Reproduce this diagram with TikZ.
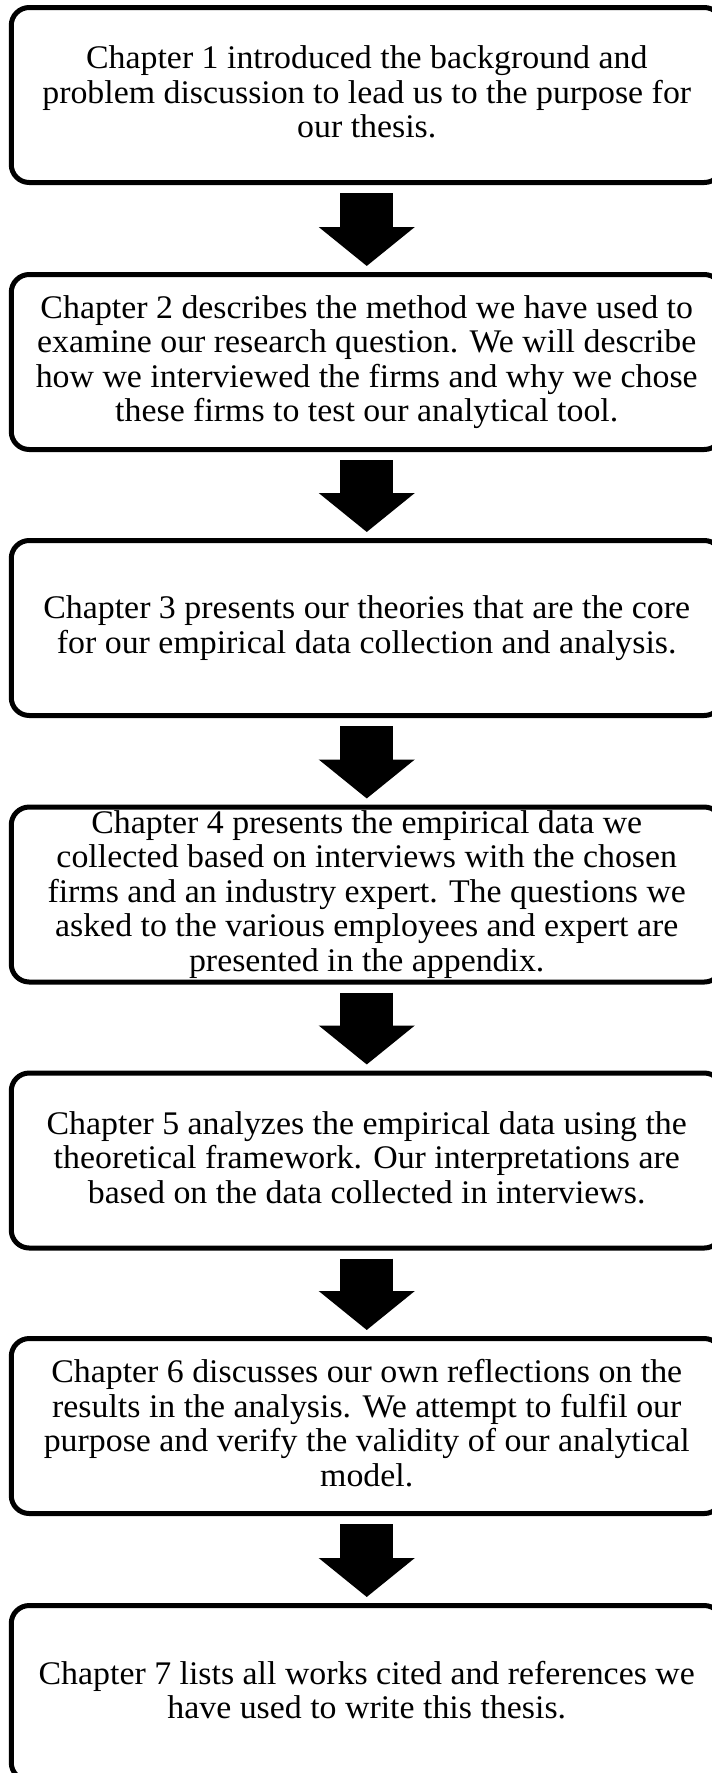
\documentclass[tikz,border=0pt]{standalone}
\usepackage{fontspec}
\setmainfont{Liberation Serif}[FakeStretch=1.026]
\usetikzlibrary{arrows.meta}
\begin{document}
\begin{tikzpicture}[x=1pt,y=-1pt,
  chapbox/.style={draw=black, line width=5pt, rounded corners=18pt, fill=white,
    minimum width=711pt, minimum height=175pt, outer sep=0pt, inner sep=0pt,
    align=center, font=\fontsize{33}{34.5}\selectfont,
    execute at begin node={\rule{0pt}{0.8em}},
    execute at end node={\rule[-0.2em]{0pt}{0pt}}},
  bigarrow/.style={line width=53pt, -{Triangle[width=94pt,length=39pt]}, black}]
\useasboundingbox[fill=white] (0,0) rectangle (712,1773);
\node[chapbox] (b1) at (366.75,95) {Chapter 1 introduced the background and\\problem discussion to lead us to the purpose for\\our thesis.};
\node[chapbox] (b2) at (366.75,362) {Chapter 2 describes the method we have used to\\examine our research question. We will describe\\how we interviewed the firms and why we chose\\these firms to test our analytical tool.};
\node[chapbox] (b3) at (366.75,628) {Chapter 3 presents our theories that are the core\\for our empirical data collection and analysis.};
\node[chapbox] (b4) at (366.75,894.5) {Chapter 4 presents the empirical data we\\collected based on interviews with the chosen\\firms and an industry expert. The questions we\\asked to the various employees and expert are\\presented in the appendix.};
\node[chapbox] (b5) at (366.75,1160.5) {Chapter 5 analyzes the empirical data using the\\theoretical framework. Our interpretations are\\based on the data collected in interviews.};
\node[chapbox] (b6) at (366.75,1426) {Chapter 6 discusses our own reflections on the\\results in the analysis. We attempt to fulfil our\\purpose and verify the validity of our analytical\\model.};
\node[chapbox] (b7) at (366.75,1693) {Chapter 7 lists all works cited and references we\\have used to write this thesis.};
\foreach \a/\b in {b1/b2,b2/b3,b3/b4,b4/b5,b5/b6,b6/b7}{
  \draw[bigarrow] ([yshift=-10.5pt]\a.south) -- ([yshift=8.5pt]\b.north);
}
\end{tikzpicture}
\end{document}
